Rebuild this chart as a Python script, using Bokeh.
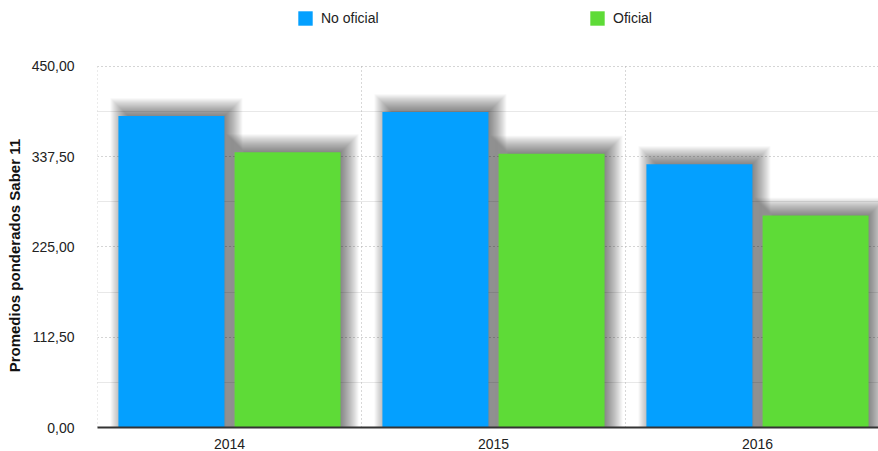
from bokeh.plotting import figure
from bokeh.models import (ColumnDataSource, FixedTicker, CustomJSTickFormatter,
                          Range1d, Legend, LegendItem)
from bokeh.embed import file_html
from bokeh.resources import INLINE

years = ["2014", "2015", "2016"]
no_oficial = [388, 393, 328]
oficial = [343, 341, 264]
y_ticks = [0, 112.5, 225, 337.5, 450]
y_minor = [56.25, 168.75, 281.25, 393.75]

FONT = "Liberation Sans"
BLUE = "#04A0FF"
GREEN = "#5EDB37"

W, H = 878, 451
FRAME_LEFT = 97
CAT_PX = 264
FRAME_H = 428          # frame spans from top of page to the baseline
DATA_PX = 362          # pixels used by 0..450
x_end = (W - FRAME_LEFT) / CAT_PX
ypx = 450 / DATA_PX
y_end = FRAME_H * ypx

p = figure(width=W, height=H, output_backend="svg", toolbar_location=None,
           x_range=Range1d(0, x_end), y_range=Range1d(0, y_end),
           min_border_left=FRAME_LEFT, min_border_right=0,
           min_border_top=0, min_border_bottom=0)
p.outline_line_color = None
p.background_fill_color = "white"
p.border_fill_color = "white"

bw = 0.4015
off = 0.22
xs_b = [i + 0.5 - off for i in range(len(years))]
xs_g = [i + 0.5 + off for i in range(len(years))]

# vertical dotted separators between categories (0..450 only)
bounds = list(range(len(years) + 1))
p.segment(x0=bounds, x1=bounds, y0=[0] * len(bounds), y1=[y_ticks[-1]] * len(bounds),
          line_color="#b0b0b0", line_dash="1 3", line_width=1)

# soft drop shadows (stacked translucent layers approximating a blur)
xpx = 1.0 / CAT_PX
DX, DY = 5, 5
for xs, vals in ((xs_b, no_oficial), (xs_g, oficial)):
    for grow in range(13, -7, -1):
        src = ColumnDataSource(dict(
            left=[x - bw / 2 + (DX - grow) * xpx for x in xs],
            right=[x + bw / 2 + (DX + grow) * xpx for x in xs],
            top=[v + (DY + grow) * ypx for v in vals],
            bottom=[0 for _ in vals]))
        p.quad(left="left", right="right", top="top", bottom="bottom", source=src,
               fill_color="black", fill_alpha=0.031, line_color=None)

src_b = ColumnDataSource(dict(x=xs_b, top=no_oficial))
src_g = ColumnDataSource(dict(x=xs_g, top=oficial))
rb = p.vbar(x="x", top="top", width=bw, source=src_b, fill_color=BLUE, line_color=None)
rg = p.vbar(x="x", top="top", width=bw, source=src_g, fill_color=GREEN, line_color=None)

# axes
p.yaxis.ticker = FixedTicker(ticks=y_ticks, minor_ticks=y_minor)
p.yaxis.formatter = CustomJSTickFormatter(code="return tick.toFixed(2).replace('.', ',');")
p.yaxis.axis_line_color = None
p.yaxis.major_tick_line_color = None
p.yaxis.minor_tick_line_color = None
p.yaxis.major_label_standoff = 17
p.yaxis.major_label_text_font = FONT
p.yaxis.major_label_text_font_size = "14px"
p.yaxis.major_label_text_color = "#222222"
p.yaxis.axis_label = "Promedios ponderados Saber 11" + "\u00a0" * 20
p.yaxis.axis_label_text_font = FONT
p.yaxis.axis_label_text_font_size = "15px"
p.yaxis.axis_label_text_font_style = "bold"
p.yaxis.axis_label_text_color = "#111111"
p.yaxis.axis_label_standoff = 6

p.xaxis.ticker = FixedTicker(ticks=[i + 0.5 for i in range(len(years))])
p.xaxis.major_label_overrides = {i + 0.5: y for i, y in enumerate(years)}
p.xaxis.axis_line_color = "#333333"
p.xaxis.axis_line_width = 2
p.xaxis.major_tick_line_color = None
p.xaxis.minor_tick_line_color = None
p.xaxis.major_label_standoff = 5
p.xaxis.major_label_text_font = FONT
p.xaxis.major_label_text_font_size = "14px"
p.xaxis.major_label_text_color = "#222222"

# grids
p.ygrid.ticker = FixedTicker(ticks=y_ticks, minor_ticks=y_minor)
p.ygrid.grid_line_color = "#aaaaaa"
p.ygrid.grid_line_dash = "1 3"
p.ygrid.grid_line_width = 1
p.ygrid.minor_grid_line_color = "#d0d0d0"
p.ygrid.minor_grid_line_dash = "1 1"
p.xgrid.grid_line_color = None

legend = Legend(items=[LegendItem(label="No oficial", renderers=[rb]),
                       LegendItem(label="Oficial", renderers=[rg])],
                orientation="horizontal", location=(199, FRAME_H - 28),
                glyph_width=18, glyph_height=18, label_standoff=7,
                label_width=267, spacing=0, padding=0, margin=0,
                label_text_font=FONT, label_text_font_size="14px",
                label_text_color="#222222", border_line_color=None,
                background_fill_alpha=0)
p.add_layout(legend, "center")

open("out.html", "w").write(file_html(p, INLINE))
